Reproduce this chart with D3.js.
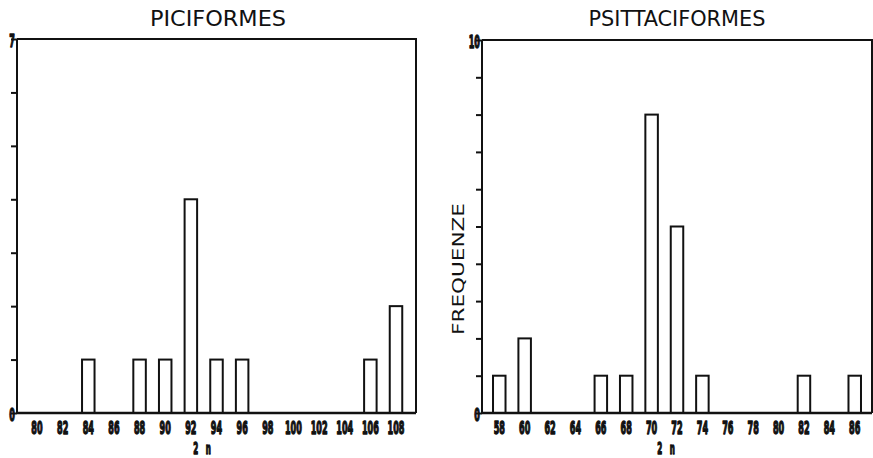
<!DOCTYPE html>
<html>
<head>
<meta charset="utf-8">
<script src="https://d3js.org/d3.v7.min.js"></script>
<style>
  body { margin: 0; background: #fff; }
  svg { display: block; }
  .title { font-family: "DejaVu Sans Condensed", sans-serif; font-size: 22px; fill: #111; }
  .tick-lab { font-family: "DejaVu Sans Condensed", sans-serif; font-weight: bold; font-size: 18px; fill: #111; stroke: #111; stroke-width: 1.4px; stroke-linejoin: round; }
</style>
</head>
<body>
<div id="chart"></div>
<script>
// Piciformes: chromosome number 2n vs frequency
var piciCats = [80, 82, 84, 86, 88, 90, 92, 94, 96, 98, 100, 102, 104, 106, 108];
var piciFreq = [0, 0, 1, 0, 1, 1, 4, 1, 1, 0, 0, 0, 0, 1, 2];

// Psittaciformes
var psittCats = [58, 60, 62, 64, 66, 68, 70, 72, 74, 76, 78, 80, 82, 84, 86];
var psittFreq = [1, 2, 0, 0, 1, 1, 8, 5, 1, 0, 0, 0, 1, 0, 1];

var svg = d3.select("#chart").append("svg")
    .attr("width", 873)
    .attr("height", 458);

function drawPanel(opt) {
    var x = d3.scalePoint()
        .domain(opt.cats)
        .range([opt.left, opt.right])
        .padding(opt.pad);
    var y = d3.scaleLinear()
        .domain([0, opt.yMax])
        .range([opt.bottom, opt.top]);

    var g = svg.append("g");
    var barW = 12.5;

    // frame (top + right)
    g.append("path")
        .attr("d", "M" + opt.left + "," + opt.top + "H" + opt.right + "V" + opt.bottom)
        .attr("fill", "none")
        .attr("stroke", "#111")
        .attr("stroke-width", 2);

    // bars
    var data = opt.cats.map(function(c, i) { return {c: c, v: opt.vals[i]}; })
        .filter(function(d) { return d.v > 0; });
    g.selectAll("rect.bar")
        .data(data)
        .enter().append("rect")
        .attr("class", "bar")
        .attr("x", function(d) { return x(d.c) - barW / 2; })
        .attr("y", function(d) { return y(d.v); })
        .attr("width", barW)
        .attr("height", function(d) { return y(0) - y(d.v); })
        .attr("fill", "#fff")
        .attr("stroke", "#111")
        .attr("stroke-width", 2);

    // y axis
    var yAxis = d3.axisLeft(y)
        .ticks(opt.yMax)
        .tickSize(6)
        .tickFormat("");
    var ya = g.append("g")
        .attr("transform", "translate(" + opt.left + ",0)")
        .call(yAxis);
    ya.select(".domain").attr("stroke", "#111").attr("stroke-width", 2).attr("d", "M0," + opt.top + "V" + opt.bottom);
    ya.selectAll(".tick line").attr("stroke", "#111").attr("stroke-width", 2);

    // y end labels (0 and max)
    [0, opt.yMax].forEach(function(v) {
        g.append("text")
            .attr("class", "tick-lab")
            .attr("text-anchor", "end")
            .attr("transform", "translate(" + (opt.left - 2) + "," + (y(v) + 8) + ") scale(0.5,1)")
            .text(v);
    });

    // x baseline
    g.append("line")
        .attr("x1", opt.left).attr("x2", opt.right)
        .attr("y1", opt.bottom).attr("y2", opt.bottom)
        .attr("stroke", "#111")
        .attr("stroke-width", 2.5);

    // x tick labels
    g.selectAll("text.xlab")
        .data(opt.cats)
        .enter().append("text")
        .attr("class", "tick-lab xlab")
        .attr("text-anchor", "middle")
        .attr("transform", function(d) { return "translate(" + x(d) + "," + (opt.bottom + 21) + ") scale(0.5,1)"; })
        .text(function(d) { return d; });

    // x title "2 n"
    g.append("text")
        .attr("class", "tick-lab")
        .attr("text-anchor", "middle")
        .style("white-space", "pre")
        .style("font-size", "16px")
        .attr("transform", "translate(" + opt.xTitleX + "," + (opt.bottom + 41) + ") scale(0.5,1)")
        .text("2   n");

    // title
    g.append("text")
        .attr("class", "title")
        .attr("x", opt.titleX - opt.titleLen / 2)
        .attr("y", 26)
        .attr("textLength", opt.titleLen)
        .attr("lengthAdjust", "spacingAndGlyphs")
        .text(opt.title);

    if (opt.yTitle) {
        g.append("text")
            .attr("class", "title")
            .style("font-size", "16px")
            .attr("transform", "translate(464," + (269 + 66) + ") rotate(-90)")
            .attr("textLength", 132)
            .attr("lengthAdjust", "spacingAndGlyphs")
            .text(opt.yTitle);
    }
}

drawPanel({
    cats: piciCats, vals: piciFreq, yMax: 7,
    left: 17, right: 416, top: 39, bottom: 413, pad: 0.78,
    title: "PICIFORMES", titleX: 218, titleLen: 136, xTitleX: 202
});

drawPanel({
    cats: psittCats, vals: psittFreq, yMax: 10,
    left: 482, right: 872, top: 40, bottom: 413, pad: 0.68,
    title: "PSITTACIFORMES", titleX: 677, titleLen: 177, xTitleX: 666,
    yTitle: "FREQUENZE"
});
</script>
</body>
</html>
